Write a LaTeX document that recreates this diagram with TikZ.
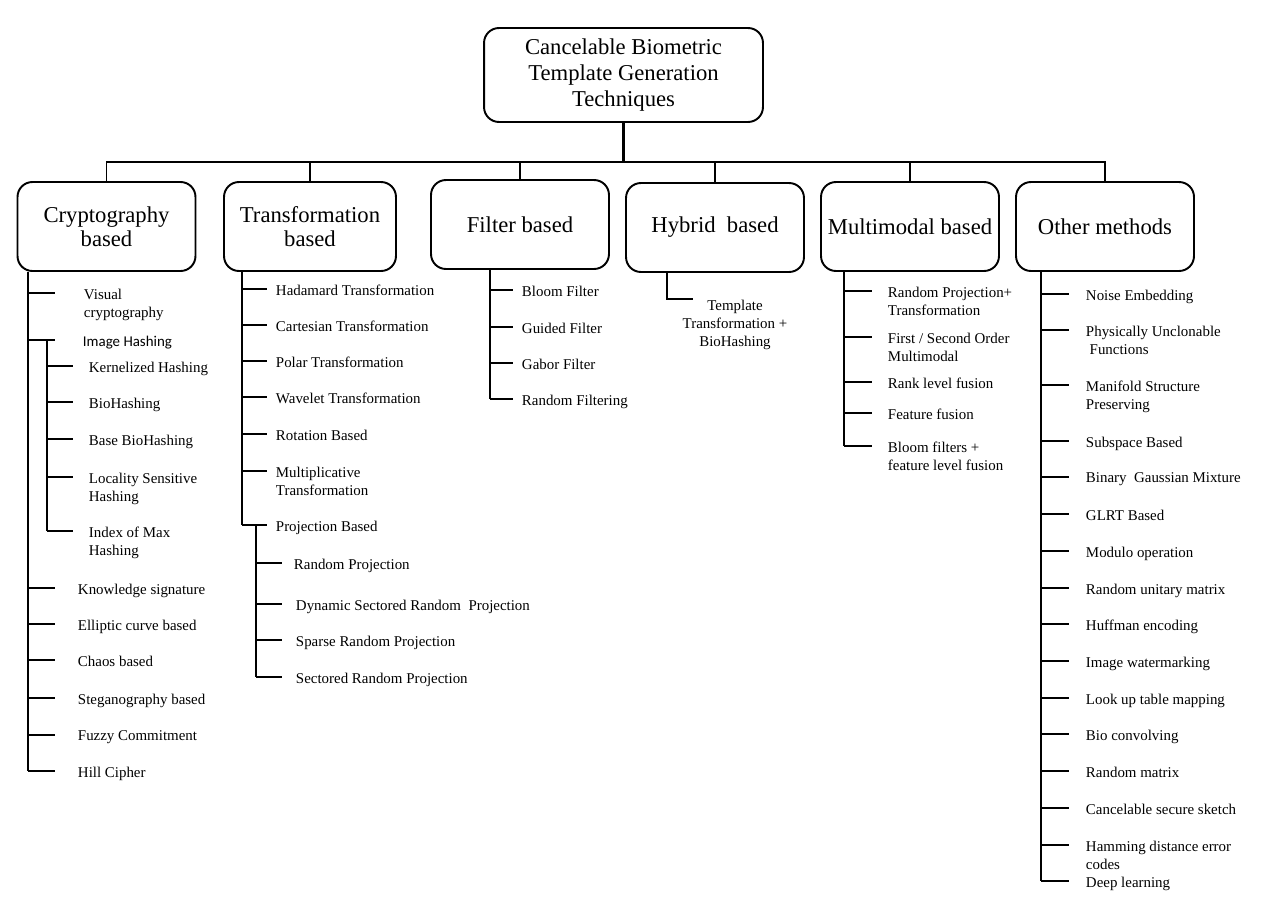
\documentclass[tikz,border=0pt]{standalone}
\usepackage{fontspec}
\setmainfont{Liberation Serif}
\newfontfamily\calibrifont{Carlito}

\begin{document}
\begin{tikzpicture}[x=0.02cm,y=-0.02cm,line width=1.1pt,
  main node/.style={draw,rounded corners=8.5pt,align=center,inner sep=1pt,
    minimum width=3.56cm,minimum height=1.78cm,font=\fontsize{12.9}{13.6}\selectfont},
  item node/.style={anchor=north west,inner sep=0pt,align=left,
    font=\fontsize{8.5}{10.2}\selectfont}]
  \useasboundingbox (0,0) rectangle (1267,906);

  % root and categories
  \node[main node,minimum width=5.58cm,minimum height=1.88cm,
    font=\fontsize{12.9}{14.6}\selectfont] (root) at (623.5,75)
    {Cancelable Biometric\\Template Generation\\Techniques};
  \node[main node] (crypto) at (106.5,226.5) {Cryptography\\based};
  \node[main node,minimum width=3.44cm] (trans) at (310,226.5) {Transformation\\based};
  \node[main node] (filter) at (520,224.5) {Filter based};
  \node[main node] (hybrid) at (715,227.5) {Hybrid\ \ based};
  \node[main node] (multi) at (910,226.5) {Multimodal based};
  \node[main node] (other) at (1105,226.5) {Other methods};

  \coordinate (bus) at (root.south |- 0,162);
  \draw[line width=1.6pt] (root.south) -- (bus);
  \foreach \n in {crypto,trans,filter,hybrid,multi,other}
    \draw (\n.north) |- (bus);

  % cryptography based
  \coordinate (crt) at (crypto.south -| 28,0);
  \foreach \n/\x/\y/\txt in {vc/83/293/{Visual\\cryptography},
      ih/82/340/{\calibrifont Image Hashing},ks/77/588/{Knowledge signature},
      ec/77/624/{Elliptic curve based},cb/77/660/{Chaos based},
      sb/77/698/{Steganography based},fc/77/735/{Fuzzy Commitment},
      hc/77/771/{Hill Cipher}}{
    \node[item node] (\n) at (\x,\y-5) {\txt};
    \draw ([yshift=-0.1cm]crt |- \n.north) -- ++(27,0);
  }
  \draw (crt) -- ([yshift=-0.1cm]crt |- hc.north);

  \coordinate (iht) at ([yshift=-0.1cm]ih.north -| 47,0);
  \foreach \n/\y/\txt in {kh/366/{Kernelized Hashing},bh/402/BioHashing,
      bbh/439/{Base BioHashing},lsh/477/{Locality Sensitive\\Hashing},
      imh/531/{Index of Max\\Hashing}}{
    \node[item node] (\n) at (88,\y-5) {\txt};
    \draw ([yshift=-0.1cm]iht |- \n.north) -- ++(26,0);
  }
  \draw (iht) -- ([yshift=-0.1cm]iht |- imh.north);

  % transformation based
  \coordinate (trt) at (trans.south -| 242,0);
  \foreach \n/\y/\txt in {ht/289/{Hadamard Transformation},
      ct/325/{Cartesian Transformation},pt/361/{Polar Transformation},
      wt/397/{Wavelet Transformation},rb/434/{Rotation Based},
      mt/471/{Multiplicative\\Transformation},pb/525/{Projection Based}}{
    \node[item node] (\n) at (275,\y-5) {\txt};
    \draw ([yshift=-0.1cm]trt |- \n.north) -- ++(25,0);
  }
  \draw (trt) -- ([yshift=-0.1cm]trt |- pb.north);

  \coordinate (pbt) at ([yshift=-0.1cm]pb.north -| 256,0);
  \foreach \n/\x/\y/\txt in {rp/293/563/{Random Projection},
      dsrp/295/604/{Dynamic Sectored Random\ \ Projection},
      srp/295/640/{Sparse Random Projection},
      secrp/295/677/{Sectored Random Projection}}{
    \node[item node] (\n) at (\x,\y-5) {\txt};
    \draw ([yshift=-0.1cm]pbt |- \n.north) -- ++(26,0);
  }
  \draw (pbt) -- ([yshift=-0.1cm]pbt |- secrp.north);

  % filter based
  \coordinate (fit) at (filter.south -| 490,0);
  \foreach \n/\y/\txt in {bf/290/{Bloom Filter},gf/327/{Guided Filter},
      gbf/363/{Gabor Filter},rf/399/{Random Filtering}}{
    \node[item node] (\n) at (521,\y-5) {\txt};
    \draw ([yshift=-0.1cm]fit |- \n.north) -- ++(23,0);
  }
  \draw (fit) -- ([yshift=-0.1cm]fit |- rf.north);

  % hybrid based
  \coordinate (hyt) at (hybrid.south -| 667,0);
  \node[item node,anchor=north,align=center] (tt) at (735,299)
    {Template\\Transformation +\\BioHashing};
  \draw (hyt) -- (hyt |- tt.north) -- ++(26,0);

  % multimodal based
  \coordinate (mut) at (multi.south -| 844,0);
  \foreach \n/\y/\txt in {rpt/291/{Random Projection+\\Transformation},
      fso/337/{First / Second Order\\Multimodal},rlf/382/{Rank level fusion},
      ff/413/{Feature fusion},bfl/446/{Bloom filters +\\feature level fusion}}{
    \node[item node] (\n) at (887,\y-5) {\txt};
    \draw ([yshift=-0.1cm]mut |- \n.north) -- ++(28,0);
  }
  \draw (mut) -- ([yshift=-0.1cm]mut |- bfl.north);

  % other methods
  \coordinate (ott) at (other.south -| 1041,0);
  \foreach \n/\y/\txt in {ne/294/{Noise Embedding},
      puf/330/{Physically Unclonable\\\ Functions},
      msp/385/{Manifold Structure\\Preserving},sbb/441/{Subspace Based},
      bgm/477/{Binary\ \ Gaussian Mixture},glrt/514/{GLRT Based},
      mo/551/{Modulo operation},rum/588/{Random unitary matrix},
      he/624/{Huffman encoding},iw/661/{Image watermarking},
      lut/698/{Look up table mapping},bc/734/{Bio convolving},
      rm/771/{Random matrix},css/808/{Cancelable secure sketch},
      hd/845/{Hamming distance error\\codes},dl/881/{Deep learning}}{
    \node[item node] (\n) at (1085,\y-5) {\txt};
    \draw ([yshift=-0.1cm]ott |- \n.north) -- ++(28,0);
  }
  \draw (ott) -- ([yshift=-0.1cm]ott |- dl.north);

\end{tikzpicture}
\end{document}
